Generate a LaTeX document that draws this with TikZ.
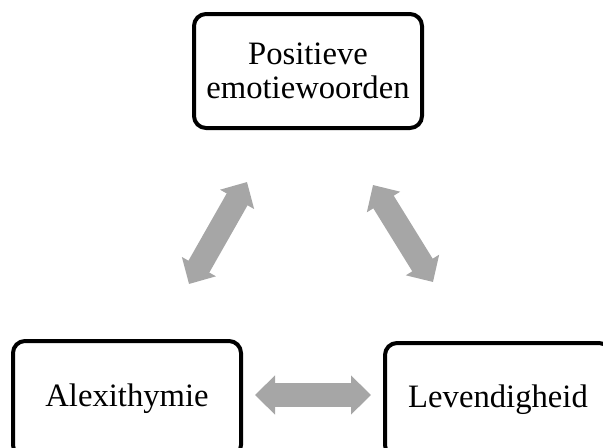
\documentclass[tikz,border=0pt]{standalone}
\usepackage{fontspec}
\setmainfont{Liberation Serif}
\usetikzlibrary{arrows.meta}
\definecolor{arrowgray}{HTML}{A6A6A6}
\tikzset{
  box/.style={draw=black, line width=3pt, rounded corners=9pt, align=center,
    font=\fontsize{24.5}{25.5}\selectfont, inner sep=0pt},
  biarrow/.style={draw=arrowgray, line width=18pt,
    {Triangle[length=15pt,width=28.5pt]}-{Triangle[length=15pt,width=28.5pt]}}
}
\begin{document}
\begin{tikzpicture}[x=0.75pt,y=-0.75pt]
\useasboundingbox (0,0) rectangle (603,447);
\clip (0,0) rectangle (603,447);
\node[box, minimum width=228*0.75pt, minimum height=114*0.75pt] (pos) at (308,71) {Positieve\\emotiewoorden};
\node[box, minimum width=228*0.75pt, minimum height=116*0.75pt] (alex) at (127,399) {Alexithymie};
\node[box, minimum width=226*0.75pt, minimum height=114*0.75pt] (lev) at (498,400) {Levendigheid};
\coordinate (a1) at (189,284);
\coordinate (a2) at (247,182);
\coordinate (b1) at (373,185);
\coordinate (b2) at (433,282);
\coordinate (c1) at (255,395);
\coordinate (c2) at (371,395);
\draw[biarrow] (a1) -- (a2);
\draw[biarrow] (b1) -- (b2);
\draw[biarrow] (c1) -- (c2);
\end{tikzpicture}
\end{document}
